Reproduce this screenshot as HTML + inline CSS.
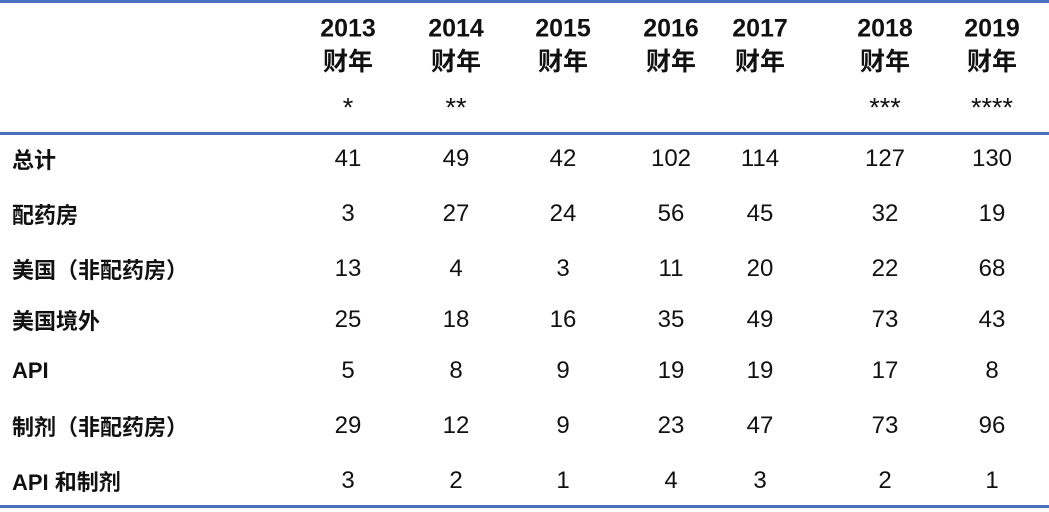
<!DOCTYPE html>
<html><head><meta charset="utf-8"><style>
body{margin:0;width:1049px;height:512px;background:#fff;overflow:hidden;position:relative;font-family:"Liberation Sans","Noto Sans CJK SC",sans-serif;color:#111}
.line{position:absolute;left:0;width:1049px;height:3px;background:#4a72c0}
.t{position:absolute;transform:translate(-50%,-50%);white-space:nowrap;font-size:24px}
.h{font-weight:bold;font-size:25px}
.m{font-size:27px}
.lab{position:absolute;left:12px;transform:translateY(-50%);font-weight:bold;font-size:22px;white-space:nowrap}
</style></head><body>
<div class="line" style="top:0"></div>
<div class="line" style="top:132px"></div>
<div class="line" style="top:505px"></div>
<div id="tbl"></div>
<script>
const years=["2013","2014","2015","2016","2017","2018","2019"];
const marks=["*","**","","","","***","****"];
const rowLabels=["总计","配药房","美国（非配药房）","美国境外","API","制剂（非配药房）","API 和制剂"];
const rowTotal=[41,49,42,102,114,127,130];
const rowDispensary=[3,27,24,56,45,32,19];
const rowUS=[13,4,3,11,20,22,68];
const rowExUS=[25,18,16,35,49,73,43];
const rowAPI=[5,8,9,19,19,17,8];
const rowFormulation=[29,12,9,23,47,73,96];
const rowBoth=[3,2,1,4,3,2,1];
const rows=[rowTotal,rowDispensary,rowUS,rowExUS,rowAPI,rowFormulation,rowBoth];
const colX=[348,456,563,671,760,885,992];
const rowY=[159,214,269,320,371,426,481];
const root=document.getElementById('tbl');
function add(cls,txt,x,y,name){const d=document.createElement('div');d.className=cls;d.textContent=txt;


d.style.top=y+'px';if(x!==null)d.style.left=x+'px';root.appendChild(d);}
years.forEach((y,i)=>{add('t h',y,colX[i],29,'year-header');add('t h','财年',colX[i],60,'fiscal-year-label');if(marks[i])add('t m',marks[i],colX[i],108,'footnote-mark');});
rowLabels.forEach((l,r)=>{add('lab',l,null,rowY[r],'row-label');rows[r].forEach((v,c)=>add('t',String(v),colX[c],rowY[r],'cell-value'));});
document.querySelectorAll('.lab').forEach(e=>e.style.left='12px');
</script>
</body></html>
